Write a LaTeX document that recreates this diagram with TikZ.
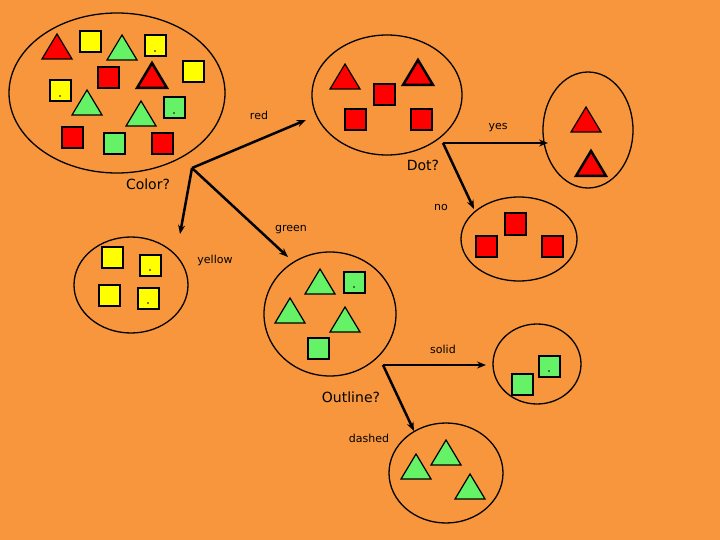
\documentclass[tikz,border=0pt]{standalone}
\usetikzlibrary{arrows.meta}
\usepackage{fontspec}
\setmainfont{DejaVu Sans}
\definecolor{bg}{HTML}{F7963C}
\definecolor{rd}{HTML}{FF0000}
\definecolor{yl}{HTML}{FFFF00}
\definecolor{gn}{HTML}{66F266}
\begin{document}
\begin{tikzpicture}[x=1pt,y=-1pt,
  grp/.style={draw=black,line width=1.3pt},
  sq/.style={draw=black,line width=2pt,minimum size=21pt,inner sep=0pt,anchor=center},
  tri/.style={draw=black,line width=1.2pt,line join=miter},
  thk/.style={line width=2.5pt},
  arr/.style={line width=2.5pt,-{Stealth[length=9pt,width=7pt]}},
  lbl/.style={font=\fontsize{11}{13}\selectfont},
  big/.style={font=\fontsize{14}{16}\selectfont},
  dotm/.style={circle,fill=black,inner sep=0pt,minimum size=1.6pt}]
\fill[bg] (0,0) rectangle (720,540);
\useasboundingbox (0,0) rectangle (720,540);
\newcommand{\sqr}[4]{\node[sq,fill=#3] (#4) at (#1,#2) {};}
\newcommand{\trg}[4]{\filldraw[tri,fill=#3] (#1-15,#2+12) -- (#1,#2-13) -- (#1+15,#2+12) -- cycle;}
\newcommand{\trgk}[4]{\filldraw[tri,thk,fill=#3] (#1-15,#2+12) -- (#1,#2-13) -- (#1+15,#2+12) -- cycle;}
\newcommand{\dt}[3]{\node[dotm] (#3) at (#1,#2+5) {};}
% groups
\draw[grp] (117,93) ellipse [x radius=108,y radius=80];
\node (g0) at (117,93) {};
\draw[grp] (387,95) ellipse [x radius=75,y radius=60];
\node (g1) at (387,95) {};
\draw[grp] (588,130) ellipse [x radius=45,y radius=58];
\node (g2) at (588,130) {};
\draw[grp] (519,239) ellipse [x radius=58,y radius=42];
\node (g3) at (519,239) {};
\draw[grp] (131,285) ellipse [x radius=57,y radius=48];
\node (g4) at (131,285) {};
\draw[grp] (330,314) ellipse [x radius=66,y radius=62];
\node (g5) at (330,314) {};
\draw[grp] (537,364) ellipse [x radius=44,y radius=40];
\node (g6) at (537,364) {};
\draw[grp] (446,473) ellipse [x radius=57,y radius=50];
\node (g7) at (446,473) {};
% group 0
\trg{57}{47}{rd}{}
\sqr{90}{42}{yl}{a1}
\trg{122}{48}{gn}{}
\sqr{155}{46}{yl}{a2}\dt{155}{46}{d1}
\sqr{193}{72}{yl}{a3}
\sqr{108}{78}{rd}{a4}
\trgk{152}{76}{rd}{}
\sqr{60}{91}{yl}{a5}\dt{60}{91}{d2}
\trg{87}{103}{gn}{}
\trg{141}{114}{gn}{}
\sqr{174}{108}{gn}{a6}\dt{174}{108}{d3}
\sqr{72}{138}{rd}{a7}
\sqr{114}{144}{gn}{a8}
\sqr{162}{144}{rd}{a9}
% group 1
\trg{345}{77}{rd}{}
\trgk{418}{73}{rd}{}
\sqr{384}{95}{rd}{b1}
\sqr{355}{120}{rd}{b2}
\sqr{421}{120}{rd}{b3}
% group 2
\trg{586}{120}{rd}{}
\trgk{591}{164}{rd}{}
% group 3
\sqr{515}{224}{rd}{c1}
\sqr{486}{246}{rd}{c2}
\sqr{552}{246}{rd}{c3}
% group 4
\sqr{112}{257}{yl}{e1}
\sqr{150}{265}{yl}{e2}\dt{150}{265}{d4}
\sqr{109}{295}{yl}{e3}
\sqr{148}{298}{yl}{e4}\dt{148}{298}{d5}
% group 5
\trg{320}{282}{gn}{}
\sqr{354}{282}{gn}{f1}\dt{354}{282}{d6}
\trg{290}{311}{gn}{}
\trg{345}{320}{gn}{}
\sqr{318}{348}{gn}{f2}
% group 6
\sqr{522}{384}{gn}{h1}
\sqr{549}{366}{gn}{h2}\dt{549}{366}{d7}
% group 7
\trg{446}{453}{gn}{}
\trg{416}{467}{gn}{}
\trg{470}{487}{gn}{}
% junctions
\coordinate (jc) at (192,168);
\coordinate (jd) at (443,143);
\coordinate (jo) at (383,365);
\coordinate (tr) at (306,120);
\coordinate (ty) at (180,234);
\coordinate (tg) at (288,257);
\coordinate (tyes) at (548,143);
\coordinate (tno) at (474,209);
\coordinate (ts) at (486,365);
\coordinate (td) at (414,431);
\draw[arr] (jc) -- (tr);
\draw[arr] (jc) -- (ty);
\draw[arr] (jc) -- (tg);
\draw[arr] (jd) -- (tyes);
\draw[arr] (jd) -- (tno);
\draw[arr] (jo) -- (ts);
\draw[arr] (jo) -- (td);
% labels
\node[big] (lc) at (148,184) {Color?};
\node[big] (ld) at (423,165) {Dot?};
\node[big] (lo) at (351,397) {Outline?};
\node[lbl] (l1) at (259,115) {red};
\node[lbl] (l2) at (498,128) {yes};
\node[lbl] (l3) at (441,207) {no};
\node[lbl] (l4) at (291,230) {green};
\node[lbl] (l5) at (215,260) {yellow};
\node[lbl] (l6) at (443,349) {solid};
\node[lbl] (l7) at (369,438) {dashed};
\end{tikzpicture}
\end{document}
